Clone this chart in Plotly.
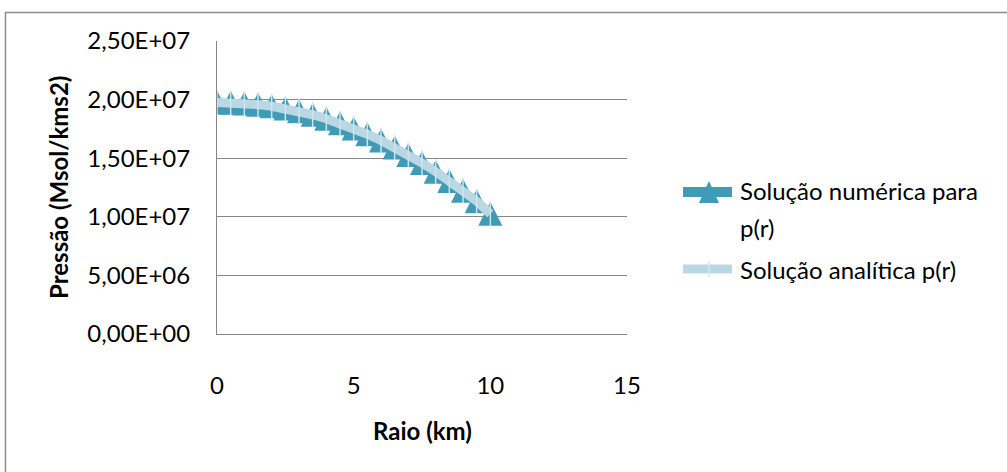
import plotly.graph_objects as go

# ---- data ----
raio_km = [0, 0.5, 1, 1.5, 2, 2.5, 3, 3.5, 4, 4.5, 5,
           5.5, 6, 6.5, 7, 7.5, 8, 8.5, 9, 9.5, 10]
p_numerica = [1.975e7, 1.973e7, 1.967e7, 1.957e7, 1.943e7, 1.924e7, 1.900e7,
              1.871e7, 1.837e7, 1.798e7, 1.754e7, 1.705e7, 1.651e7, 1.592e7,
              1.528e7, 1.459e7, 1.385e7, 1.306e7, 1.222e7, 1.133e7, 1.025e7]
p_analitica = [1.975e7, 1.973e7, 1.967e7, 1.957e7, 1.943e7, 1.924e7, 1.900e7,
               1.871e7, 1.837e7, 1.798e7, 1.754e7, 1.705e7, 1.651e7, 1.592e7,
               1.528e7, 1.459e7, 1.385e7, 1.306e7, 1.222e7, 1.133e7, 1.025e7]
y_tickvals = [0, 5e6, 1e7, 1.5e7, 2e7, 2.5e7]
y_ticktext = ["0,00E+00", "5,00E+06", "1,00E+07", "1,50E+07", "2,00E+07", "2,50E+07"]
x_tickvals = [0, 5, 10, 15]
x_ticktext = ["0", "5", "10", "15"]
serie_nomes = ["Solução numérica para", "p(r)", "Solução analítica p(r)"]
x_titulo = "Raio (km)"
y_titulo = "Pressão (Msol/kms2)"

# ---- style ----
W, H = 1007, 472
L, R, T, B = 217, 627, 41, 334
DARK = "#3f9bb6"
LIGHT = "#b9d8e3"
GRID = "#868686"
FONT = "Lato"


def px(x):
    return (x - L) / (R - L)


def py(y):
    return (B - y) / (B - T)


fig = go.Figure()
fig.add_trace(go.Scatter(
    x=raio_km, y=p_numerica, mode="lines+markers", name=serie_nomes[0],
    line=dict(color=DARK, width=8),
    marker=dict(symbol="arrow-down", angle=180, standoff=12, size=24,
                color=DARK, line=dict(width=0)),
    showlegend=False, hoverinfo="skip"))
fig.add_trace(go.Scatter(
    x=raio_km, y=p_analitica, mode="lines+markers", name=serie_nomes[2],
    line=dict(color=LIGHT, width=9),
    marker=dict(symbol="line-ns", size=18, color=LIGHT,
                line=dict(color="#cfe5ed", width=1.5)),
    showlegend=False, hoverinfo="skip"))

shapes = [
    # outer chart border
    dict(type="rect", xref="paper", yref="paper",
         x0=px(5.5), x1=px(1015), y0=py(12.5), y1=py(490),
         line=dict(color="#8c8c8c", width=1.5), layer="below"),
    # legend samples
    dict(type="line", xref="paper", yref="paper",
         x0=px(683), x1=px(732), y0=py(192), y1=py(192),
         line=dict(color=DARK, width=10)),
    dict(type="path", xref="paper", yref="paper",
         path=f"M {px(699)},{py(203)} L {px(719)},{py(203)} L {px(709)},{py(181)} Z",
         fillcolor=DARK, line=dict(width=0)),
    dict(type="line", xref="paper", yref="paper",
         x0=px(683), x1=px(732), y0=py(269), y1=py(269),
         line=dict(color=LIGHT, width=9)),
    dict(type="line", xref="paper", yref="paper",
         x0=px(709), x1=px(709), y0=py(261), y1=py(277),
         line=dict(color="#d3e7ee", width=1.5)),
]

ann_font = dict(family=FONT, size=24, color="#000000")
annotations = [
    dict(xref="paper", yref="paper", x=px(738), y=py(190), text=serie_nomes[0],
         showarrow=False, xanchor="left", yanchor="middle", font=ann_font),
    dict(xref="paper", yref="paper", x=px(738), y=py(227), text=serie_nomes[1],
         showarrow=False, xanchor="left", yanchor="middle", font=ann_font),
    dict(xref="paper", yref="paper", x=px(738), y=py(269), text=serie_nomes[2],
         showarrow=False, xanchor="left", yanchor="middle", font=ann_font),
    dict(xref="paper", yref="paper", x=px(422), y=py(430), text="<b>" + x_titulo + "</b>",
         showarrow=False, xanchor="center", yanchor="middle",
         font=dict(family=FONT, size=24, color="#000000")),
    dict(xref="paper", yref="paper", x=px(58), y=py(188), text="<b>" + y_titulo + "</b>",
         showarrow=False, xanchor="center", yanchor="middle", textangle=-90,
         font=dict(family=FONT, size=24, color="#000000")),
]

fig.update_layout(
    width=W, height=H,
    margin=dict(l=L, r=W - R, t=T, b=H - B, pad=0),
    paper_bgcolor="white", plot_bgcolor="white",
    shapes=shapes, annotations=annotations,
    font=dict(family=FONT, size=24, color="#000000"),
    showlegend=False,
    xaxis=dict(range=[0, 15], tickvals=x_tickvals, ticktext=x_ticktext,
               showgrid=False, zeroline=False, showline=True, linecolor=GRID,
               linewidth=1, ticks="", ticklabelstandoff=30,
               tickfont=dict(family=FONT, size=24, color="#000000")),
    yaxis=dict(range=[0, 2.5e7], tickvals=y_tickvals, ticktext=y_ticktext,
               showgrid=True, gridcolor=GRID, gridwidth=1, zeroline=False,
               showline=True, linecolor=GRID, linewidth=1, ticks="",
               ticklabelstandoff=21,
               tickfont=dict(family=FONT, size=24, color="#000000")),
)

fig.write_html("out.html")
